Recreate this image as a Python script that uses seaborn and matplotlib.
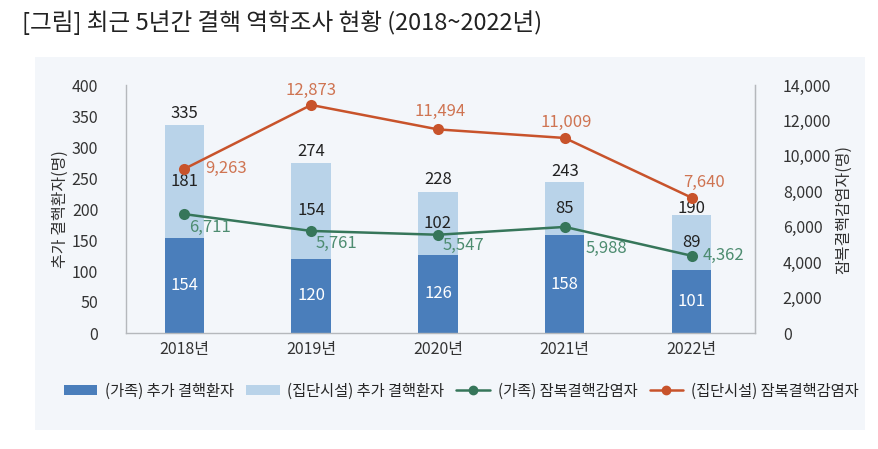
import pandas as pd
import matplotlib.pyplot as plt
import seaborn as sns
from matplotlib.patches import Rectangle
from matplotlib.lines import Line2D
from matplotlib.patches import Patch

# 데이터
years = ['2018년', '2019년', '2020년', '2021년', '2022년']
family_patients = [154, 120, 126, 158, 101]       # (가족) 추가 결핵환자
group_patients = [181, 154, 102, 85, 89]          # (집단시설) 추가 결핵환자
family_latent = [6711, 5761, 5547, 5988, 4362]    # (가족) 잠복결핵감염자
group_latent = [9263, 12873, 11494, 11009, 7640]  # (집단시설) 잠복결핵감염자

total_patients = [a + b for a, b in zip(family_patients, group_patients)]
df = pd.DataFrame({'year': years, 'family': family_patients, 'group': group_patients,
                   'total': total_patients})

sns.set_style('white')
plt.rcParams['font.family'] = ['Noto Sans CJK KR', 'DejaVu Sans']

c_dark = '#4a7ebb'
c_light = '#b9d3e9'
c_green = '#36765a'
c_red = '#c8532b'
c_green_txt = '#4d8c70'
c_red_txt = '#cf7452'
c_panel = '#f3f6fa'
fs = 12

fig = plt.figure(figsize=(8.79, 4.49), dpi=100)
fig.patch.set_facecolor('white')
fig.patches.append(Rectangle((35 / 879, 1 - 430 / 449), 830 / 879, 373 / 449,
                             transform=fig.transFigure, facecolor=c_panel, edgecolor='none', zorder=-10))
fig.text(22 / 879, 1 - 23 / 449, '[그림] 최근 5년간 결핵 역학조사 현황 (2018~2022년)',
         fontsize=17, va='center', ha='left', color='#222222')

ax = fig.add_axes([126 / 879, 1 - 333 / 449, 629 / 879, 248 / 449])
ax.set_facecolor('none')

sns.barplot(data=df, x='year', y='total', color=c_light, width=0.31, saturation=1, linewidth=0, ax=ax)
sns.barplot(data=df, x='year', y='family', color=c_dark, width=0.31, saturation=1, linewidth=0, ax=ax)
ax.set_ylim(0, 400)
ax.set_yticks(range(0, 401, 50))
ax.set_xlim(-0.46, 4.5)
ax.set_xlabel('')
ax.set_ylabel('추가 결핵환자(명)', fontsize=11.5, color='#333333', labelpad=2)
ax.tick_params(axis='both', length=0, labelsize=11.5, colors='#333333')
ax.tick_params(axis='y', pad=20)
ax.tick_params(axis='x', pad=6)
ax.spines['top'].set_visible(False)
for s in ['left', 'bottom', 'right']:
    ax.spines[s].set_color('#b5b8bc')
    ax.spines[s].set_linewidth(1)

# 막대 라벨 (합계 위치 오프셋, 픽셀)
total_off = [12, 12, 12, 11, 7]
for i in range(len(years)):
    ax.annotate(f'{total_patients[i]}', (i, total_patients[i]), xytext=(0, total_off[i]),
                textcoords='offset pixels', ha='center', va='center', fontsize=fs, color='#222222')
    ax.text(i, family_patients[i] + group_patients[i] / 2, f'{group_patients[i]}',
            ha='center', va='center', fontsize=fs, color='#222222')
    ax.text(i, family_patients[i] / 2, f'{family_patients[i]}',
            ha='center', va='center', fontsize=fs, color='white')

ax2 = ax.twinx()
sns.lineplot(x=list(range(len(years))), y=family_latent, color=c_green, marker='o', markersize=8,
             markeredgewidth=0, linewidth=1.8, ax=ax2)
sns.lineplot(x=list(range(len(years))), y=group_latent, color=c_red, marker='o', markersize=8,
             markeredgewidth=0, linewidth=1.8, ax=ax2)
ax2.set_xlim(-0.46, 4.5)
ax2.set_ylim(0, 14000)
ax2.set_yticks(range(0, 14001, 2000))
ax2.set_yticklabels([f'{v:,}' for v in range(0, 14001, 2000)])
ax2.tick_params(axis='y', length=0, labelsize=11.5, colors='#333333', pad=20)
ax2.set_ylabel('잠복결핵감염자(명)', fontsize=11.5, color='#333333', rotation=90, labelpad=3)
for s in ['top', 'left', 'bottom']:
    ax2.spines[s].set_visible(False)
ax2.spines['right'].set_color('#b5b8bc')

# 선 라벨 위치 (픽셀 오프셋)
green_off = [(5, -13), (4, -13), (5, -11), (21, -22), (11, 0)]
red_off = [(21, 0), (0, 15), (2, 18), (1, 16), (12, 15)]
red_ha = ['left', 'center', 'center', 'center', 'center']
for i in range(len(years)):
    ax2.annotate(f'{family_latent[i]:,}', (i, family_latent[i]), xytext=green_off[i], textcoords='offset pixels',
                 ha='left', va='center', fontsize=fs, color=c_green_txt)
    ax2.annotate(f'{group_latent[i]:,}', (i, group_latent[i]), xytext=red_off[i], textcoords='offset pixels',
                 ha=red_ha[i], va='center', fontsize=fs, color=c_red_txt)

handles = [Patch(facecolor=c_dark, edgecolor='none'),
           Patch(facecolor=c_light, edgecolor='none'),
           Line2D([], [], color=c_green, marker='o', markersize=6, linewidth=1.8),
           Line2D([], [], color=c_red, marker='o', markersize=6, linewidth=1.8)]
labels = ['(가족) 추가 결핵환자', '(집단시설) 추가 결핵환자', '(가족) 잠복결핵감염자', '(집단시설) 잠복결핵감염자']
fig.legend(handles, labels, loc='center', bbox_to_anchor=(461 / 879, 1 - 391 / 449), ncol=4, frameon=False,
           fontsize=11, handlelength=2.2, handleheight=0.6, columnspacing=0.8, handletextpad=0.5)

fig.savefig('out.png', dpi=100, facecolor='white')
